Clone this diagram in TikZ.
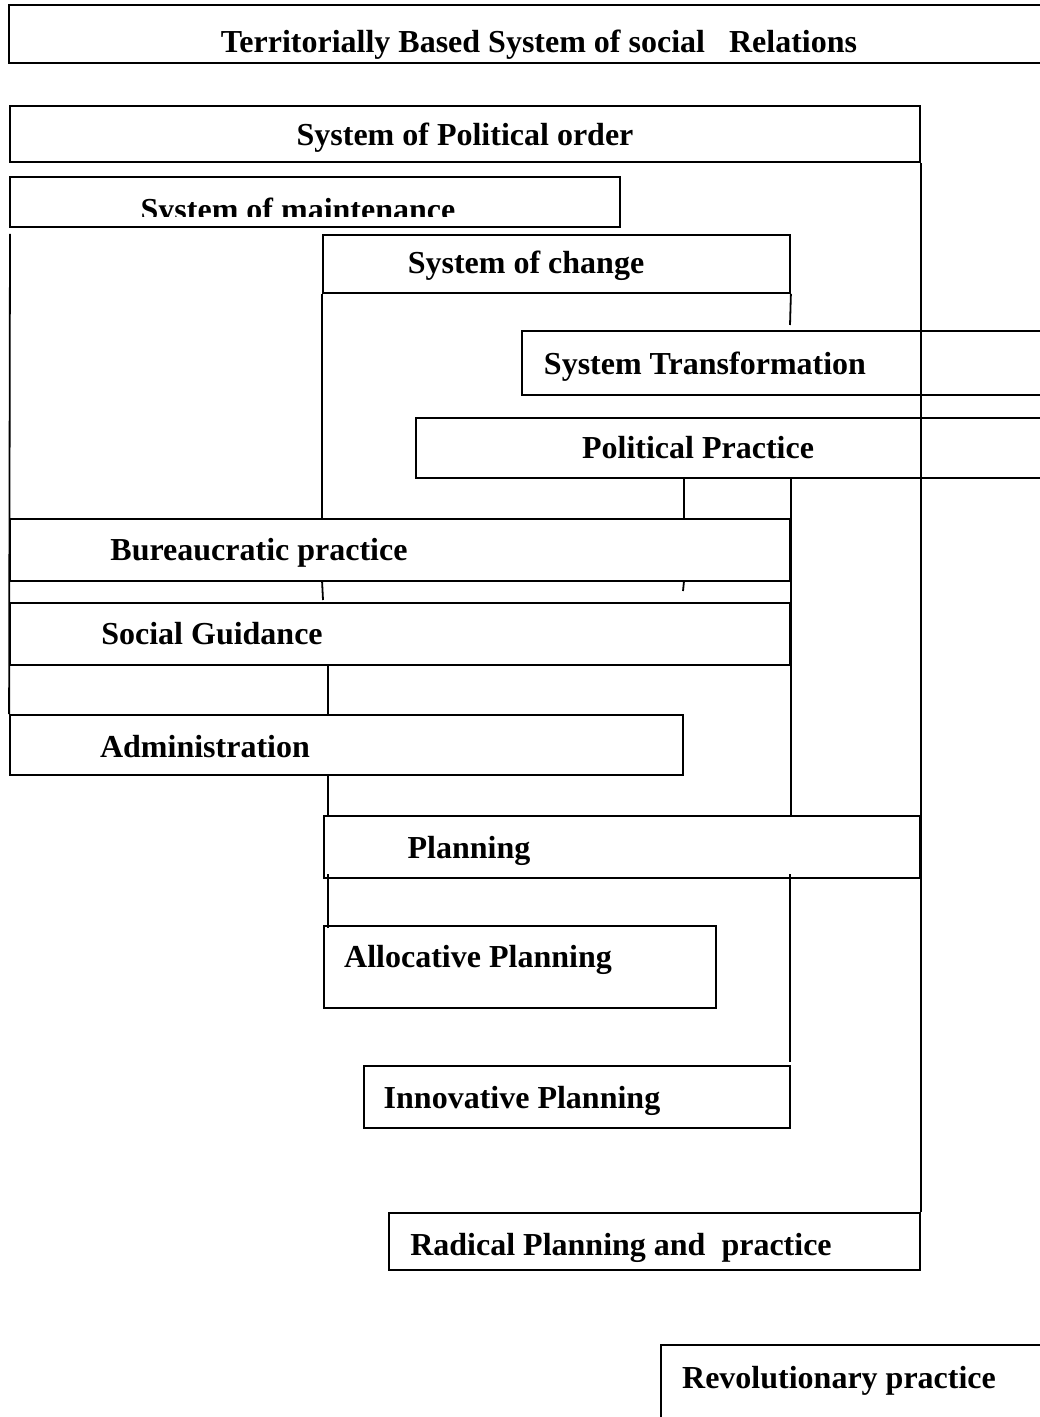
\documentclass[tikz,border=0pt]{standalone}
\usepackage{fontspec}
\setmainfont{Liberation Serif}
\usetikzlibrary{fit}
\begin{document}
\begin{tikzpicture}[x=0.5pt,y=-0.5pt, line width=0.9pt,
  box/.style={draw, inner sep=0pt},
  frame/.style={draw=none, inner sep=0pt},
  lbl/.style={font=\fontsize{16}{19}\selectfont\bfseries, inner sep=0pt, anchor=base},
  conn/.style={draw}]
\useasboundingbox (0,0) rectangle (1039,1417);
\fill[white] (0,0) rectangle (1039,1417);

% boxes
\node[frame, fit={(10,6) (1039,62)}] (terr) {};
\draw (terr.north east) -| (terr.south west) -- (terr.south east);
\node[box, fit={(10,106) (920,162)}] (po) {};
\node[box, fit={(10,177) (620,227)}] (maint) {};
\node[box, fit={(323,235) (790,293)}] (chg) {};
\node[frame, fit={(523,332) (1039,394)}] (trans) {};
\draw (trans.north east) -| (trans.south west) -- (trans.south east);
\node[frame, fit={(417,419) (1039,477)}] (pp) {};
\draw (pp.north east) -| (pp.south west) -- (pp.south east);
\node[box, fit={(10,519) (790,581)}] (bur) {};
\node[box, fit={(10,603) (790,665)}] (sg) {};
\node[box, fit={(10,715) (683,775)}] (adm) {};
\node[box, fit={(324,816) (920,878)}] (plan) {};
\node[box, fit={(324,926) (716,1008)}] (alloc) {};
\node[box, fit={(364,1066) (790,1128)}] (innov) {};
\node[box, fit={(389,1213) (920,1270)}] (rad) {};
\node[frame, fit={(662,1346) (1039,1417)}] (rev) {};
\draw (rev.north east) -| (rev.south west);

% texts
\node[lbl] (terr-t) at (539,53) {Territorially Based System of social\ \ \ Relations};
\node[lbl] (po-t) at (465,146) {System of Political order};
\begin{scope}
\clip (10,177) rectangle (620,217);
\node[lbl] (maint-t) at (298,221) {System of maintenance};
\end{scope}
\node[lbl] (chg-t) at (526,274) {System of change};
\node[lbl] (trans-t) at (705,374) {System Transformation};
\node[lbl] (pp-t) at (698,458) {Political Practice};
\node[lbl] (bur-t) at (259,560) {Bureaucratic practice};
\node[lbl] (sg-t) at (212,644) {Social Guidance};
\node[lbl] (adm-t) at (205,757) {Administration};
\node[lbl] (plan-t) at (469,858) {Planning};
\node[lbl] (alloc-t) at (478,967) {Allocative Planning};
\node[lbl] (innov-t) at (522,1108) {Innovative Planning};
\node[lbl] (rad-t) at (621,1255) {Radical Planning and\ \ practice};
\node[lbl] (rev-t) at (839,1388) {Revolutionary practice};

% connectors
\coordinate (l0) at (10,234);
\draw (l0) -- (adm.north west);
\draw (po.south east) -- (rad.north east);
\coordinate (c1) at (790,325);
\draw (chg.south east) -- (c1);
\draw (chg.south west) -- (chg.south west |- bur.north);
\coordinate (s1) at (323,600);
\draw (bur.south -| chg.south west) -- (s1);
\draw (pp.south -| adm.north east) -- (bur.north -| adm.north east);
\coordinate (s2) at (683,591);
\draw (bur.south -| adm.north east) -- (s2);
\draw (pp.south -| bur.north east) -- (plan.north -| bur.north east);
\coordinate (q1) at (790,874);
\coordinate (q2) at (790,1062);
\draw (q1) -- (q2);
\coordinate (k) at (328,0);
\draw (sg.south -| k) -- (adm.north -| k);
\draw (adm.south -| k) -- (plan.north -| k);
\coordinate (k1) at (328,874);
\coordinate (k2) at (328,928);
\draw (k1) -- (k2);
\end{tikzpicture}
\end{document}
